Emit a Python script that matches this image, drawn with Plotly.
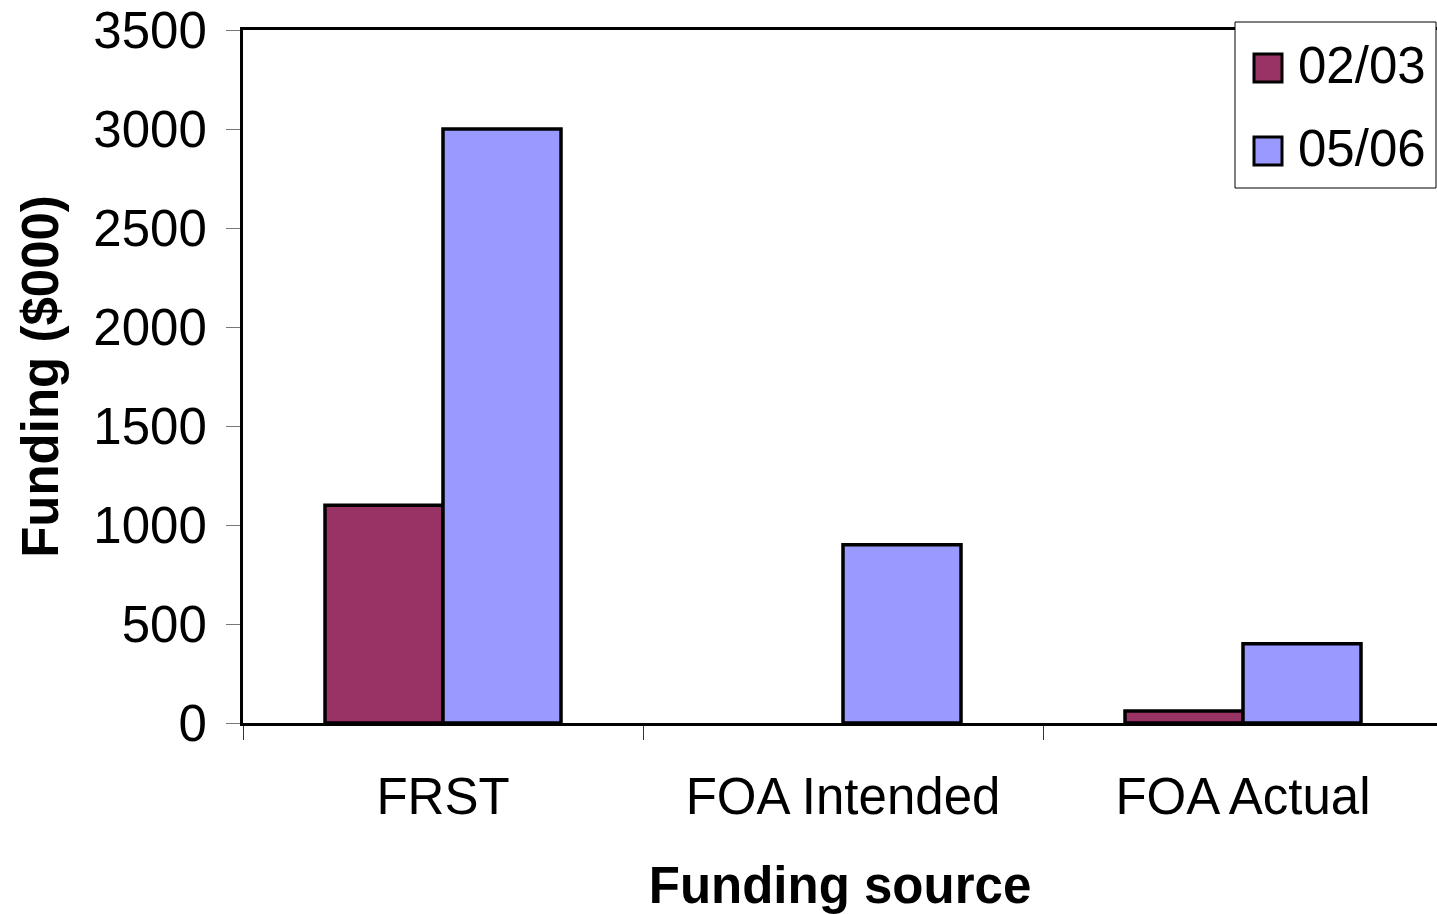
import plotly.graph_objects as go

categories = ["FRST", "FOA Intended", "FOA Actual"]
series_names = ["02/03", "05/06"]
values_0203 = [1100, 0, 60]
values_0506 = [3000, 900, 400]
colors = ["#993366", "#9999FF"]

W, H = 1437, 914
L, R, T, B = 243, 0, 30, 191
FONT = "Liberation Sans, Arial, sans-serif"
FS = 51

fig = go.Figure()
for name, vals, col in zip(series_names, [values_0203, values_0506], colors):
    fig.add_trace(go.Bar(
        x=categories, y=vals, name=name,
        marker=dict(color=col, line=dict(color="black",
                                         width=[0 if v == 0 else 3.5 for v in vals])),
        showlegend=False,
    ))

def px2x(px):
    return (px - L) / (W - L - R)

def py2y(py):
    return (H - B - py) / (H - B - T)

shapes = []
annotations = []
# legend box
shapes.append(dict(type="rect", xref="paper", yref="paper",
                   x0=px2x(1235), x1=px2x(1436), y0=py2y(188), y1=py2y(22),
                   line=dict(color="black", width=1), fillcolor="white", layer="above"))
for i, (name, col) in enumerate(zip(series_names, colors)):
    cy = 68 + i * 83
    shapes.append(dict(type="rect", xref="paper", yref="paper",
                       x0=px2x(1254), x1=px2x(1282), y0=py2y(cy + 14), y1=py2y(cy - 14),
                       line=dict(color="black", width=3), fillcolor=col, layer="above"))
    annotations.append(dict(text=name, xref="paper", yref="paper",
                            x=px2x(1296), y=py2y(cy - 3), xanchor="left", yanchor="middle",
                            showarrow=False, font=dict(family=FONT, size=FS, color="black")))

fig.update_layout(
    width=W, height=H,
    margin=dict(l=L, r=R, t=T, b=B, pad=0),
    paper_bgcolor="white", plot_bgcolor="white",
    barmode="group", bargap=0.41, bargroupgap=0,
    font=dict(family=FONT, size=FS, color="black"),
    shapes=shapes, annotations=annotations,
    showlegend=False,
    xaxis=dict(
        range=[-0.5, 2.485], showgrid=False, zeroline=False,
        showline=True, linecolor="black", linewidth=3, mirror=True,
        ticks="outside", tickson="boundaries", ticklen=14, tickwidth=1, tickcolor="#333",
        ticklabelstandoff=27,
        tickfont=dict(family=FONT, size=FS, color="black"),
        title=dict(text="<b>Funding source</b>", font=dict(family=FONT, size=FS, color="black"), standoff=45),
    ),
    yaxis=dict(
        range=[0, 3500], dtick=500, showgrid=False, zeroline=False,
        showline=True, linecolor="black", linewidth=3,
        ticks="outside", ticklen=14, tickwidth=1, tickcolor="#777",
        ticklabelstandoff=9,
        tickfont=dict(family=FONT, size=FS, color="black"),
        title=dict(text="<b>Funding ($000)</b>", font=dict(family=FONT, size=FS, color="black"), standoff=19),
    ),
)

fig.write_html("out.html", config={"displayModeBar": False},
               post_script="document.body.style.margin='0px';document.body.style.overflow='hidden';")
